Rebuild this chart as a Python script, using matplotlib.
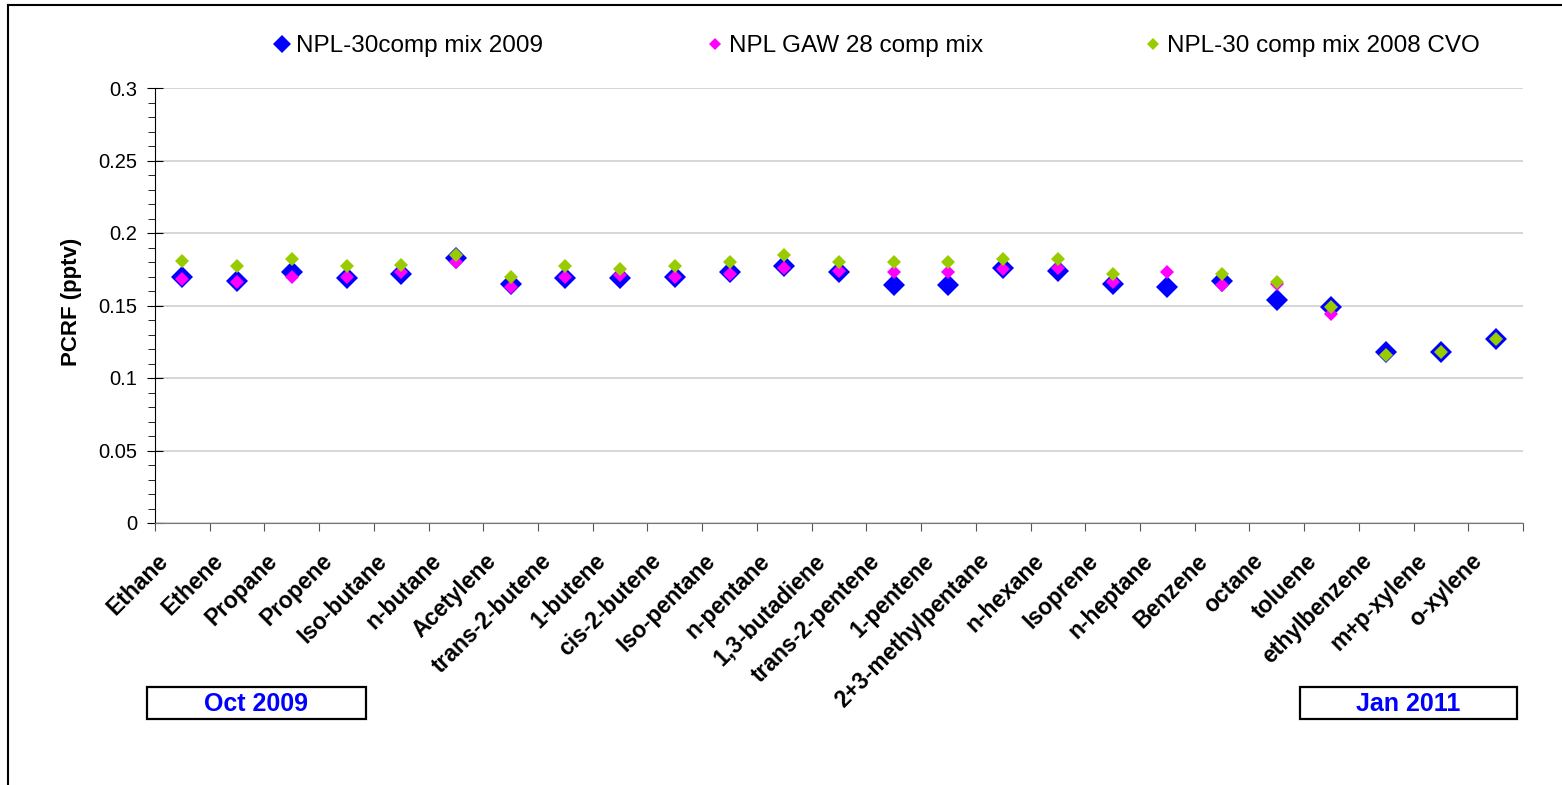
import numpy as np
import matplotlib
matplotlib.use("Agg")
import matplotlib.pyplot as plt
from matplotlib.lines import Line2D
from matplotlib.patches import Rectangle
from matplotlib.ticker import MultipleLocator, FuncFormatter

plt.rcParams['font.family'] = ['Liberation Sans', 'DejaVu Sans']

compounds = ["Ethane", "Ethene", "Propane", "Propene", "Iso-butane", "n-butane",
             "Acetylene", "trans-2-butene", "1-butene", "cis-2-butene", "Iso-pentane",
             "n-pentane", "1,3-butadiene", "trans-2-pentene", "1-pentene",
             "2+3-methylpentane", "n-hexane", "Isoprene", "n-heptane", "Benzene",
             "octane", "toluene", "ethylbenzene", "m+p-xylene", "o-xylene"]

mix2009 = [0.170, 0.167, 0.173, 0.169, 0.172, 0.183, 0.165, 0.169, 0.169, 0.170,
           0.173, 0.177, 0.173, 0.164, 0.164, 0.176, 0.174, 0.165, 0.163, 0.167,
           0.154, 0.149, 0.118, 0.118, 0.127]
gaw28 = [0.168, 0.166, 0.170, 0.170, 0.173, 0.180, 0.163, 0.170, 0.171, 0.170,
         0.172, 0.176, 0.174, 0.173, 0.173, 0.175, 0.176, 0.166, 0.173, 0.164,
         0.165, 0.144, np.nan, np.nan, np.nan]
cvo2008 = [0.181, 0.177, 0.182, 0.177, 0.178, 0.185, 0.170, 0.177, 0.175, 0.177,
           0.180, 0.185, 0.180, 0.180, 0.180, 0.182, 0.182, 0.172, np.nan, 0.172,
           0.166, 0.149, 0.116, 0.118, 0.127]

series_labels = ["NPL-30comp mix 2009", "NPL GAW 28 comp mix", "NPL-30 comp mix 2008 CVO"]
series_colors = ["#0000FF", "#FF00FF", "#99CC00"]
date_labels = ["Oct 2009", "Jan 2011"]


def main():
    W, H = 1562, 785
    fig = plt.figure(figsize=(W / 100, H / 100), dpi=100)
    ax = fig.add_axes([155 / W, 1 - 523 / H, (1523 - 155) / W, (523 - 88) / H])

    x = np.arange(len(compounds))
    ax.plot(x, mix2009, 'D', color=series_colors[0], ms=11.5, mew=0, zorder=3)
    ax.plot(x, gaw28, 'D', color=series_colors[1], ms=7.5, mew=0, zorder=4)
    ax.plot(x, cvo2008, 'D', color=series_colors[2], ms=7.0, mew=0, zorder=5)

    ax.set_xlim(-0.5, len(compounds) - 0.5)
    ax.set_ylim(0, 0.3)
    ax.yaxis.set_major_locator(MultipleLocator(0.05))
    ax.yaxis.set_minor_locator(MultipleLocator(0.01))
    ax.yaxis.set_major_formatter(FuncFormatter(lambda v, p: '%g' % round(v, 2)))
    ax.grid(axis='y', which='major', color='#d0d0d0', lw=1.2)
    ax.set_axisbelow(True)

    # tick marks on the category boundaries; names written under each centre
    ax.set_xticks(np.arange(len(compounds) + 1) - 0.5)
    ax.set_xticklabels([])
    ax.tick_params(axis='x', length=6, direction='out', color='#555555')
    for i, name in enumerate(compounds):
        ax.annotate(name, xy=(i, 0), xycoords=ax.get_xaxis_transform(),
                    xytext=(-18.5, -19), textcoords='offset points',
                    rotation=45, rotation_mode='anchor', ha='right', va='top',
                    fontsize=16.5, fontweight='bold', annotation_clip=False)

    ax.tick_params(axis='y', which='major', length=11, direction='inout', labelsize=14.5,
                   pad=7.5)
    ax.tick_params(axis='y', which='minor', length=5, direction='out')

    for s in ['top', 'right']:
        ax.spines[s].set_visible(False)
    ax.spines['bottom'].set_color('#777777')
    ax.spines['left'].set_color('black')

    ax.set_ylabel("PCRF (pptv)", fontsize=16, fontweight='bold')
    ax.yaxis.label.set_va('center')
    ax.yaxis.set_label_coords((71 - 155) / 1368, (523 - 302) / 435)

    # legend across the top, one entry each so they sit where the original has them
    sizes = [9.5, 6, 6]
    lefts = [272, 705, 1143]
    for lbl, col, ms, xl in zip(series_labels, series_colors, sizes, lefts):
        h = Line2D([], [], ls='', marker='D', color=col, ms=ms, mew=0)
        fig.legend([h], [lbl], loc='center left', bbox_to_anchor=(xl / W, 1 - 46 / H),
                   frameon=False, fontsize=17.5, handlelength=0.8, handletextpad=0.2,
                   borderpad=0, borderaxespad=0)

    # date boxes below the axis
    for (x0, x1), txt in zip([(147, 366), (1300, 1517)], date_labels):
        fig.add_artist(Rectangle((x0 / W, 1 - 719 / H), (x1 - x0) / W, 32 / H,
                                 transform=fig.transFigure, fill=False, ec='black', lw=1.6))
        fig.text((x0 + x1) / 2 / W, 1 - 704 / H, txt, ha='center', va='center',
                 color='#0000FF', fontsize=18, fontweight='bold')

    # outer chart border: only the top and left edges are in view
    fig.add_artist(Line2D([8 / W, 1], [1 - 5 / H, 1 - 5 / H], transform=fig.transFigure,
                          color='black', lw=1.5))
    fig.add_artist(Line2D([8 / W, 8 / W], [0, 1 - 5 / H], transform=fig.transFigure,
                          color='black', lw=1.5))

    fig.savefig("out.png", dpi=100)


if __name__ == "__main__":
    main()
